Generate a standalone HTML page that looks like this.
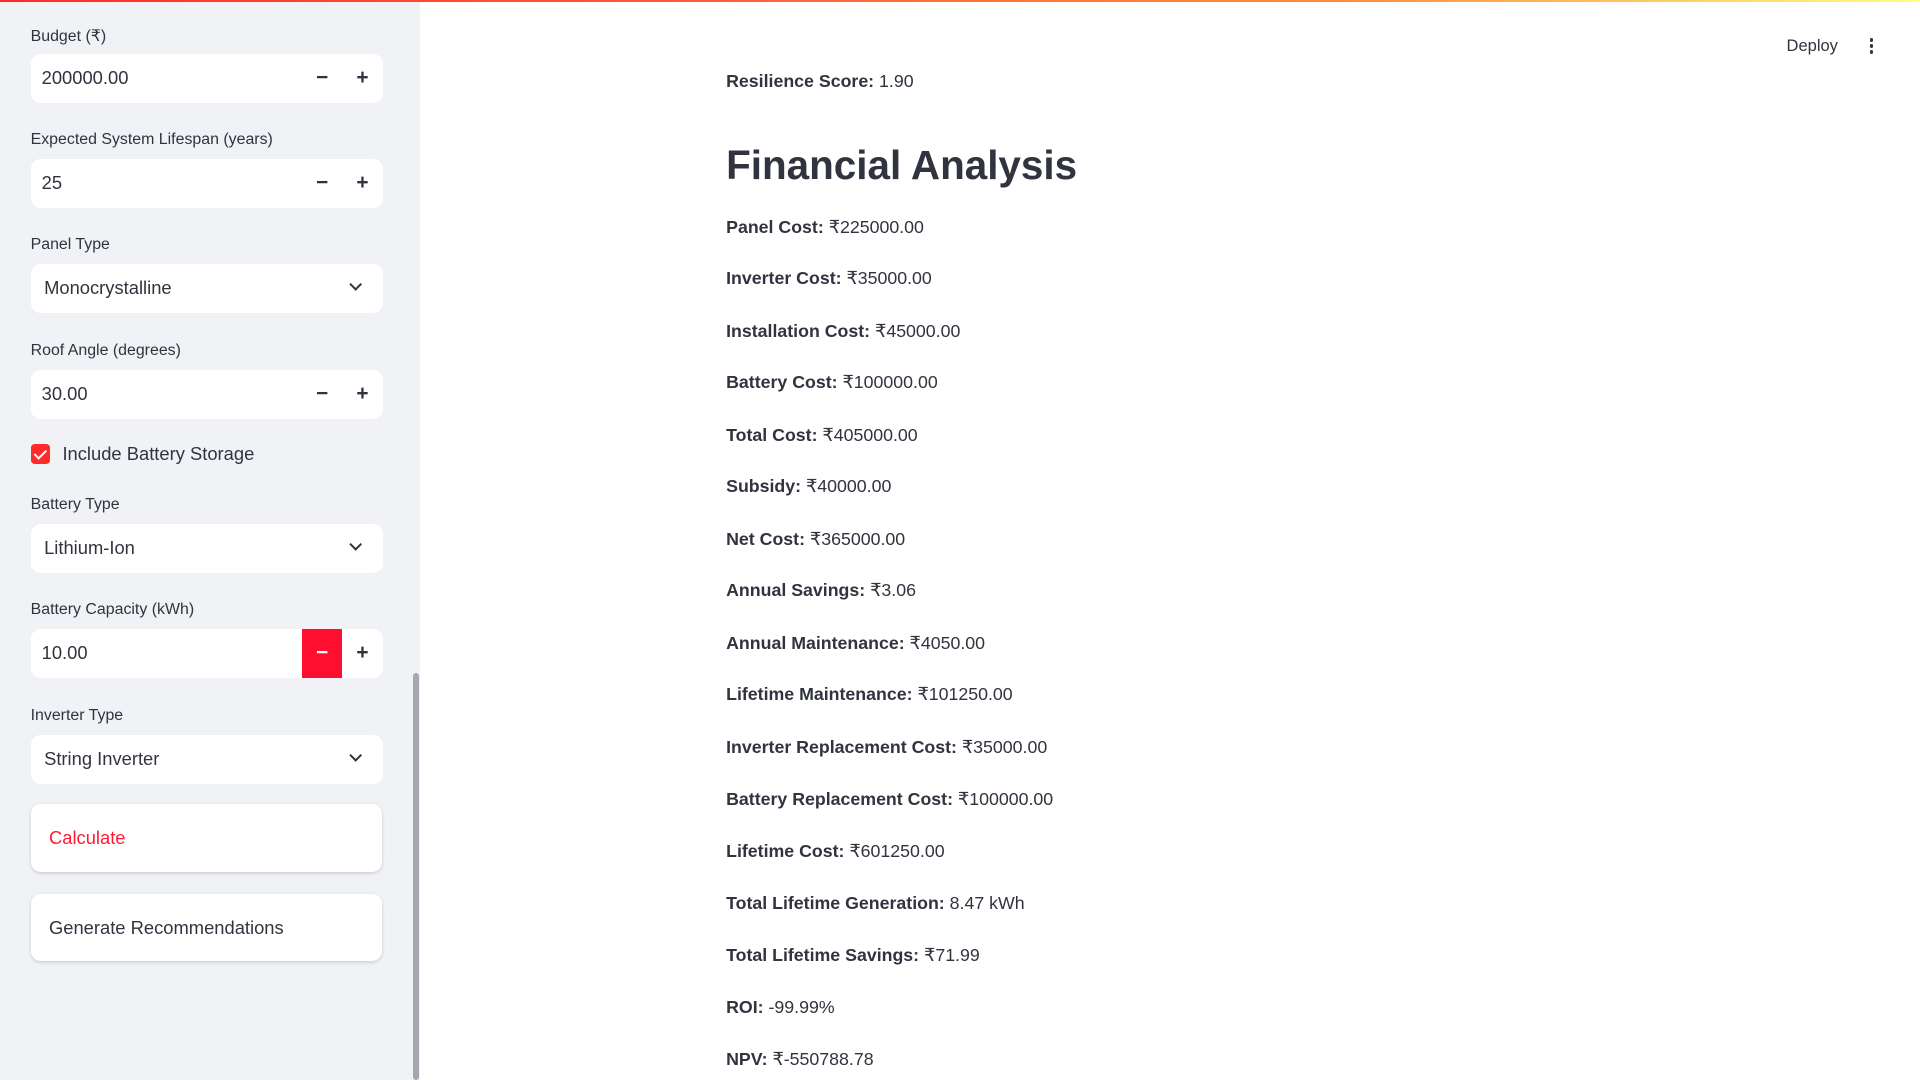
<!DOCTYPE html>
<html><head><meta charset="utf-8">
<style>
html,body{margin:0;padding:0;}
body{width:1568px;height:882px;zoom:1.22449;overflow:hidden;position:relative;background:#fff;font-family:"Liberation Sans",sans-serif;color:#31333f;}
.topbar{position:absolute;left:0;top:0;width:1568px;height:2px;background:linear-gradient(90deg,#ff2b2b,#ff8c42 70%,#fffd80);z-index:5}
.side{position:absolute;left:0;top:0;width:343px;height:882px;background:#f0f2f6}
.scroll{position:absolute;left:337px;top:550px;width:5px;height:332px;background:#a4a7ae;border-radius:3px}
.lbl{position:absolute;left:25px;font-size:13px;color:#31333f}
.box{position:absolute;left:25px;width:288px;height:40px;background:#fff;border-radius:8px;font-size:15px;line-height:40px}
.box .v{position:absolute;left:9px}
.box .sv{position:absolute;left:11px}
.pm{position:absolute;top:0;width:32px;height:40px;text-align:center;font-weight:bold;font-size:17px}
.minus{left:222px}.plus{left:255px}
.chev{position:absolute;right:19px;top:13px;width:6px;height:6px;border-right:2px solid #31333f;border-bottom:2px solid #31333f;transform:rotate(45deg)}
.btn{position:absolute;left:25px;width:287px;height:55px;background:#fff;border-radius:8px;box-shadow:0 1px 3px rgba(0,0,0,.15);font-size:15px;line-height:55px}
.btn span{position:absolute;left:15px}
.row{position:absolute;left:593px;font-size:14.5px;color:#31333f;white-space:nowrap}
.row b{font-weight:bold}
</style></head><body>
<div class="topbar"></div>
<div class="side">
 <div class="lbl" style="top:21px">Budget (₹)</div>
 <div class="box" style="top:44px"><span class="v">200000.00</span><span class="pm minus">−</span><span class="pm plus">+</span></div>
 <div class="lbl" style="top:107px">Expected System Lifespan (years)</div>
 <div class="box" style="top:130px"><span class="v">25</span><span class="pm minus">−</span><span class="pm plus">+</span></div>
 <div class="lbl" style="top:193px">Panel Type</div>
 <div class="box" style="top:216px"><span class="sv">Monocrystalline</span><span class="chev"></span></div>
 <div class="lbl" style="top:279px">Roof Angle (degrees)</div>
 <div class="box" style="top:302px"><span class="v">30.00</span><span class="pm minus">−</span><span class="pm plus">+</span></div>
 <div style="position:absolute;left:25px;top:363px;width:16px;height:16px;background:#ff2b2b;border-radius:3px"><div style="position:absolute;left:5px;top:2px;width:4px;height:8px;border-right:2px solid #fff;border-bottom:2px solid #fff;transform:rotate(45deg)"></div></div>
 <div style="position:absolute;left:51px;top:362px;font-size:15px">Include Battery Storage</div>
 <div class="lbl" style="top:405px">Battery Type</div>
 <div class="box" style="top:428px"><span class="sv">Lithium-Ion</span><span class="chev"></span></div>
 <div class="lbl" style="top:491px">Battery Capacity (kWh)</div>
 <div class="box" style="top:514px"><span class="v">10.00</span><span class="pm minus" style="background:#ff0f2f;color:#fff">−</span><span class="pm plus">+</span></div>
 <div class="lbl" style="top:577px">Inverter Type</div>
 <div class="box" style="top:600px"><span class="sv">String Inverter</span><span class="chev"></span></div>
 <div class="btn" style="top:657px;color:#ff1a35"><span>Calculate</span></div>
 <div class="btn" style="top:730px"><span>Generate Recommendations</span></div>
 <div class="scroll"></div>
</div>
<div style="position:absolute;left:1459px;top:29px;font-size:13.5px">Deploy</div>
<div style="position:absolute;left:1527px;top:31px;width:3px;">
 <div style="width:3px;height:3px;border-radius:50%;background:#31333f;margin-bottom:2px"></div>
 <div style="width:3px;height:3px;border-radius:50%;background:#31333f;margin-bottom:2px"></div>
 <div style="width:3px;height:3px;border-radius:50%;background:#31333f"></div>
</div>
<div class="row" style="top:58px"><b>Resilience Score:</b> 1.90</div>
<div style="position:absolute;left:593px;top:116px;font-size:33px;font-weight:bold;color:#31333f">Financial Analysis</div>
<div class="row" style="top:177px"><b>Panel Cost:</b> ₹225000.00</div>
<div class="row" style="top:219px"><b>Inverter Cost:</b> ₹35000.00</div>
<div class="row" style="top:262px"><b>Installation Cost:</b> ₹45000.00</div>
<div class="row" style="top:304px"><b>Battery Cost:</b> ₹100000.00</div>
<div class="row" style="top:347px"><b>Total Cost:</b> ₹405000.00</div>
<div class="row" style="top:389px"><b>Subsidy:</b> ₹40000.00</div>
<div class="row" style="top:432px"><b>Net Cost:</b> ₹365000.00</div>
<div class="row" style="top:474px"><b>Annual Savings:</b> ₹3.06</div>
<div class="row" style="top:517px"><b>Annual Maintenance:</b> ₹4050.00</div>
<div class="row" style="top:559px"><b>Lifetime Maintenance:</b> ₹101250.00</div>
<div class="row" style="top:602px"><b>Inverter Replacement Cost:</b> ₹35000.00</div>
<div class="row" style="top:644px"><b>Battery Replacement Cost:</b> ₹100000.00</div>
<div class="row" style="top:687px"><b>Lifetime Cost:</b> ₹601250.00</div>
<div class="row" style="top:729px"><b>Total Lifetime Generation:</b> 8.47 kWh</div>
<div class="row" style="top:772px"><b>Total Lifetime Savings:</b> ₹71.99</div>
<div class="row" style="top:814px"><b>ROI:</b> -99.99%</div>
<div class="row" style="top:857px"><b>NPV:</b> ₹-550788.78</div>
</body></html>
